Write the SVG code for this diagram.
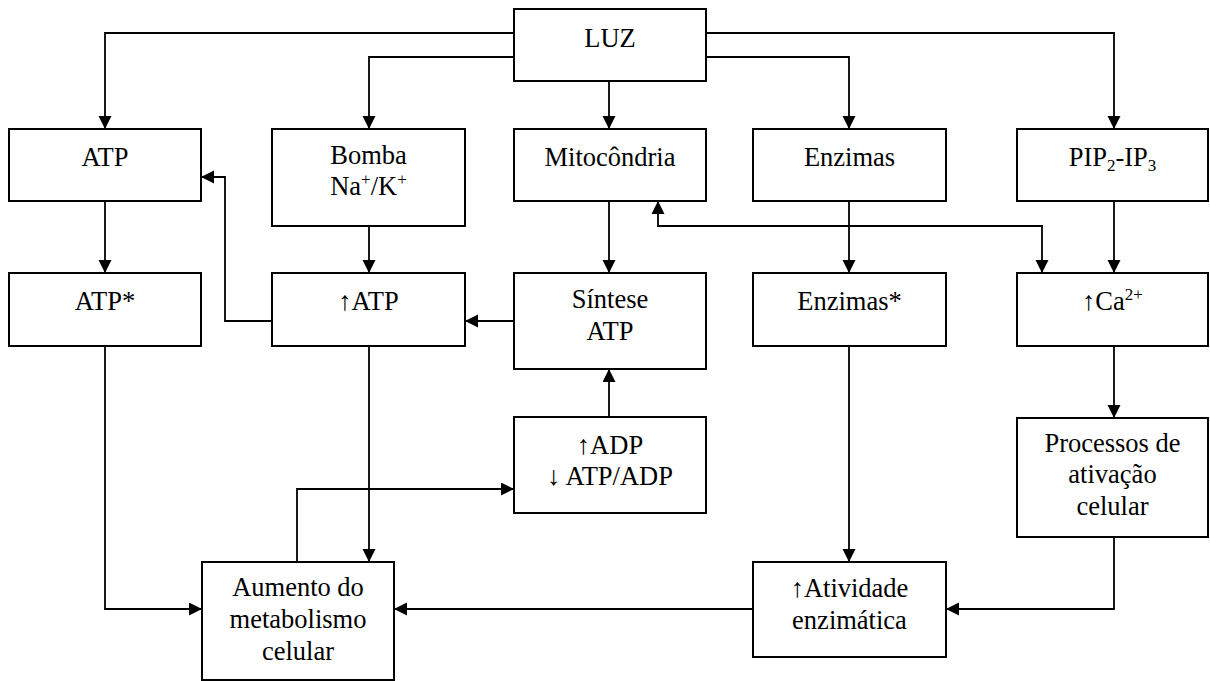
<svg xmlns="http://www.w3.org/2000/svg" width="1210" height="681" viewBox="0 0 1210 681">
<style>
  .box { fill: #ffffff; stroke: #000000; stroke-width: 2; }
  .lbl { font-family: 'Liberation Serif', 'Times New Roman', serif; font-size: 26.5px; fill: #000000; text-anchor: middle; }
  .con { fill: none; stroke: #000000; stroke-width: 1.8; }
  .arr { marker-end: url(#ah); }
</style>
<defs>
  <marker id="ah" markerUnits="userSpaceOnUse" markerWidth="14" markerHeight="14" refX="13" refY="6.5" orient="auto">
    <path d="M0,0 L13,6.5 L0,13 z" fill="#000000"/>
  </marker>
  <marker id="ahs" markerUnits="userSpaceOnUse" markerWidth="14" markerHeight="14" refX="0" refY="6.5" orient="auto">
    <path d="M13,0 L0,6.5 L13,13 z" fill="#000000"/>
  </marker>
</defs>
<rect width="1210" height="681" fill="#ffffff"/>

<g id="connectors">
  <path class="con arr" d="M514,33 H105 V129"/>
  <path class="con arr" d="M514,57 H369 V129"/>
  <path class="con arr" d="M609,81 V129"/>
  <path class="con arr" d="M706,57 H849 V129"/>
  <path class="con arr" d="M706,33 H1114 V129"/>
  <path class="con arr" d="M105,201 V273"/>
  <path class="con arr" d="M369,226 V273"/>
  <path class="con arr" d="M609,201 V273"/>
  <path class="con arr" d="M849,201 V273"/>
  <path class="con arr" d="M1114,201 V273"/>
  <path class="con arr" d="M658,201 V226 H1042 V273" marker-start="url(#ahs)"/>
  <path class="con arr" d="M272,321 H225 V177 H201"/>
  <path class="con arr" d="M514,321 H465"/>
  <path class="con arr" d="M609,417 V369"/>
  <path class="con arr" d="M369,346 V562"/>
  <path class="con arr" d="M105,346 V609 H202"/>
  <path class="con arr" d="M297,562 V489 H514"/>
  <path class="con arr" d="M849,346 V562"/>
  <path class="con arr" d="M753,609 H394"/>
  <path class="con arr" d="M1114,346 V418"/>
  <path class="con arr" d="M1114,537 V609 H946"/>
</g>

<g id="luz">
  <rect class="box" x="514" y="9" width="192" height="72"/>
  <text class="lbl" x="610" y="47">LUZ</text>
</g>
<g id="atp">
  <rect class="box" x="9" y="129" width="192" height="72"/>
  <text class="lbl" x="105" y="166">ATP</text>
</g>
<g id="bomba">
  <rect class="box" x="272" y="129" width="193" height="97"/>
  <text class="lbl" x="368.5" y="164">Bomba</text>
  <text class="lbl" x="368.5" y="195">Na<tspan dy="-10" font-size="17">+</tspan><tspan dy="10">/K</tspan><tspan dy="-10" font-size="17">+</tspan></text>
</g>
<g id="mitocondria">
  <rect class="box" x="514" y="129" width="192" height="72"/>
  <text class="lbl" x="610" y="166">Mitocôndria</text>
</g>
<g id="enzimas">
  <rect class="box" x="753" y="129" width="193" height="72"/>
  <text class="lbl" x="849.5" y="166">Enzimas</text>
</g>
<g id="pip">
  <rect class="box" x="1017" y="129" width="191" height="72"/>
  <text class="lbl" x="1112.5" y="166">PIP<tspan dy="5" font-size="17">2</tspan><tspan dy="-5">-IP</tspan><tspan dy="5" font-size="17">3</tspan></text>
</g>
<g id="atp-star">
  <rect class="box" x="9" y="273" width="192" height="73"/>
  <text class="lbl" x="105" y="310">ATP*</text>
</g>
<g id="up-atp">
  <rect class="box" x="272" y="273" width="193" height="73"/>
  <text class="lbl" x="368.5" y="310">↑ATP</text>
</g>
<g id="sintese">
  <rect class="box" x="514" y="273" width="192" height="96"/>
  <text class="lbl" x="610" y="308">Síntese</text>
  <text class="lbl" x="610" y="340">ATP</text>
</g>
<g id="enzimas-star">
  <rect class="box" x="753" y="273" width="193" height="73"/>
  <text class="lbl" x="849.5" y="310">Enzimas*</text>
</g>
<g id="ca">
  <rect class="box" x="1017" y="273" width="191" height="73"/>
  <text class="lbl" x="1112.5" y="310">↑Ca<tspan dy="-10" font-size="17">2+</tspan></text>
</g>
<g id="adp">
  <rect class="box" x="514" y="417" width="192" height="96"/>
  <text class="lbl" x="610" y="454">↑ADP</text>
  <text class="lbl" x="610" y="485">↓ ATP/ADP</text>
</g>
<g id="processos">
  <rect class="box" x="1017" y="418" width="191" height="119"/>
  <text class="lbl" x="1112.5" y="452">Processos de</text>
  <text class="lbl" x="1112.5" y="483">ativação</text>
  <text class="lbl" x="1112.5" y="515">celular</text>
</g>
<g id="aumento">
  <rect class="box" x="202" y="562" width="192" height="118"/>
  <text class="lbl" x="298" y="596">Aumento do</text>
  <text class="lbl" x="298" y="628">metabolismo</text>
  <text class="lbl" x="298" y="660">celular</text>
</g>
<g id="atividade">
  <rect class="box" x="753" y="562" width="193" height="95"/>
  <text class="lbl" x="849.5" y="597">↑Atividade</text>
  <text class="lbl" x="849.5" y="629">enzimática</text>
</g>
</svg>
